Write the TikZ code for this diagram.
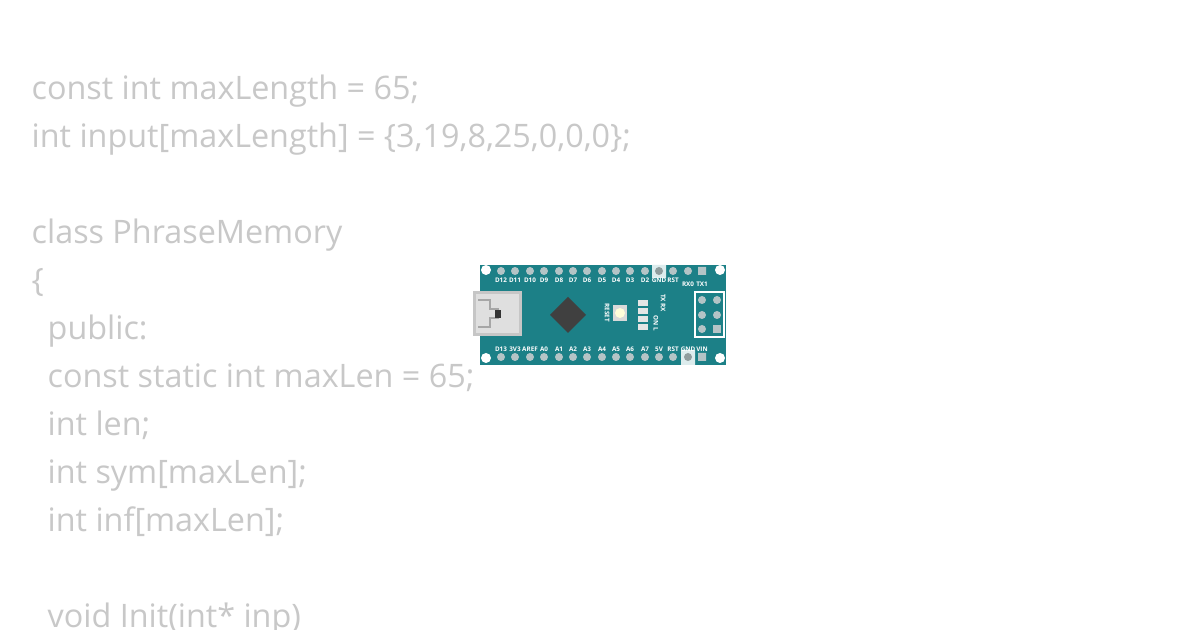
\documentclass[tikz,border=0pt]{standalone}
\usepackage{fontspec}
\setmainfont{Open Sans}
\definecolor{codegray}{HTML}{C8C8C8}
\definecolor{nanogreen}{HTML}{1C8087}
\definecolor{pingray}{HTML}{B4C4C6}
\begin{document}
\begin{tikzpicture}[x=0.1mm,y=-0.1mm]

    \tikzstyle{codeline}=[anchor=base west, inner sep=0pt, text=codegray, font=\fontsize{9.2pt}{11pt}\selectfont]
    \tikzstyle{pinlabel}=[inner sep=0pt, text=white, font=\fontsize{1.8pt}{2pt}\selectfont\bfseries]
    \tikzstyle{pin}=[fill=pingray, draw=none]

    \useasboundingbox (0,0) rectangle (1200,630);
    \fill[white] (0,0) rectangle (1200,630);

    % code text
    \node[codeline] (l1) at (31,100) {const int maxLength = 65;};
    \node[codeline] (l2) at (31,148) {int input[maxLength] = \{3,19,8,25,0,0,0\};};
    \node[codeline] (l3) at (31,244) {class PhraseMemory};
    \node[codeline] (l4) at (31,292) {\{};
    \node[codeline] (l5) at (47,340) {public:};
    \node[codeline] (l6) at (47,388) {const static int maxLen = 65;};
    \node[codeline] (l7) at (47,436) {int len;};
    \node[codeline] (l8) at (47,484) {int sym[maxLen];};
    \node[codeline] (l9) at (47,532) {int inf[maxLen];};
    \node[codeline] (l10) at (47,628) {void Init(int* inp)};

    % board
    \fill[nanogreen] (480,265) rectangle (726,365);
    \fill[white] (486,270) circle (5) (720,270) circle (5)
                 (486,358) circle (5) (720,358) circle (5);

    % header pins
    \foreach \x in {501,515,530,544,559,573,587,602,616,630,645,673,688}
        \fill[pin] (\x,271) circle (4);
    \foreach \x in {501,515,530,544,559,573,587,602,616,630,645,659,673}
        \fill[pin] (\x,357) circle (4);
    \fill[white!85!nanogreen] (652,265) rectangle (666,278) (681,350) rectangle (695,365);
    \fill[pingray!80!black] (659,271) circle (4) (688,357) circle (4);
    \fill[pin] (698,267) rectangle (706,275) (698,353) rectangle (706,361);

    % pin labels
    \foreach \x/\t in {501/D12,515/D11,530/D10,544/D9,559/D8,573/D7,587/D6,602/D5,616/D4,630/D3,645/D2,659/GND,673/RST}
        \node[pinlabel] at (\x,280) {\t};
    \node[pinlabel] at (688,284) {RX0};
    \node[pinlabel] at (702,284) {TX1};
    \foreach \x/\t in {501/D13,515/3V3,530/AREF,544/A0,559/A1,573/A2,587/A3,602/A4,616/A5,630/A6,645/A7,659/5V,673/RST,688/GND,702/VIN}
        \node[pinlabel] at (\x,349) {\t};

    % usb connector
    \fill[gray!45] (473,291) rectangle (522,336);
    \fill[gray!25] (476,294) rectangle (519,333);
    \draw[gray!70, line width=0.6pt] (478,300) -- (490,300) -- (490,309) -- (498,309) -- (498,318)
                                     -- (490,318) -- (490,327) -- (478,327);
    \fill[black!80] (495,310) rectangle (501,318);

    % chip
    \fill[black!75] (568,297) -- (586,315) -- (568,333) -- (550,315) -- cycle;

    % reset button
    \fill[gray!30] (613,305) rectangle (627,321);
    \fill[yellow!15] (620,313) circle (5);
    \node[pinlabel, rotate=-90] at (607,313) {RESET};

    % leds
    \foreach \y in {303,311,319,327}
        \fill[white!80!gray] (638,\y-3) rectangle (648,\y+3);
    \node[pinlabel, rotate=-90] at (663,303) {TX RX};
    \node[pinlabel, rotate=-90] at (656,323) {ON L};

    % icsp header
    \draw[white, line width=0.4pt] (695,292) rectangle (724,337);
    \foreach \x in {702,717}
        \foreach \y in {300,315}
            \fill[pin] (\x,\y) circle (4);
    \fill[pin] (702,329) circle (4);
    \fill[pin] (713,325) rectangle (721,333);
\end{tikzpicture}
\end{document}
